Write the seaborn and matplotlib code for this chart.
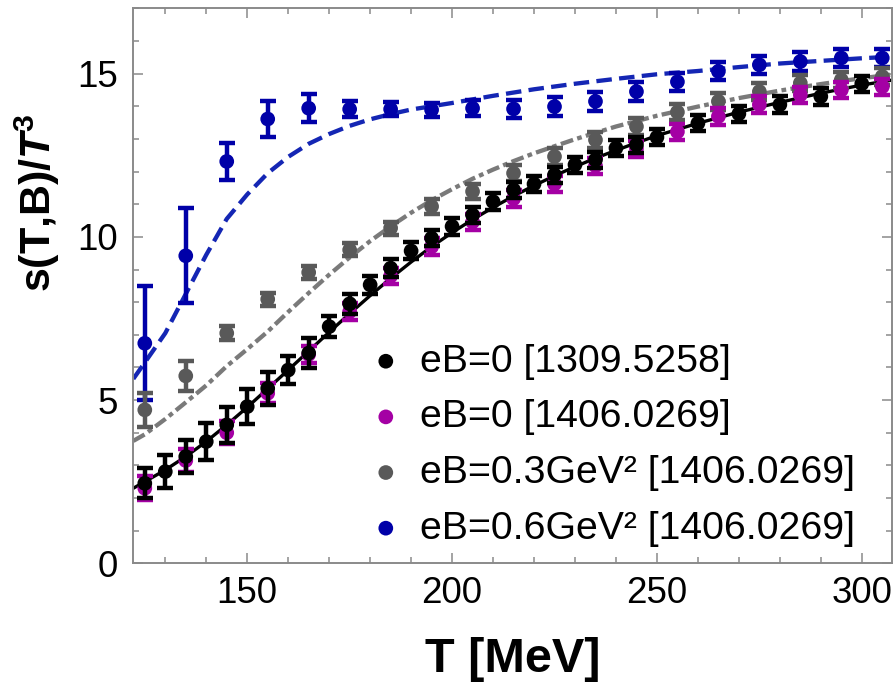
import matplotlib
matplotlib.use("Agg")
import matplotlib.pyplot as plt
from matplotlib.ticker import MultipleLocator
import seaborn as sns

# lattice data, eB=0 [1309.5258]
T_WB = [125, 130, 135, 140, 145, 150, 155, 160, 165, 170, 175, 180, 185, 190,
        195, 200, 205, 210, 215, 220, 225, 230, 235, 240, 245, 250,
        260, 270, 280, 290, 300]
S_WB = [2.45, 2.81, 3.27, 3.73, 4.24, 4.80, 5.36, 5.92, 6.44, 7.25, 7.95, 8.53,
        9.04, 9.57, 9.96, 10.32, 10.67, 11.08, 11.44, 11.62, 11.90, 12.21, 12.36,
        12.72, 12.82, 13.05, 13.48, 13.77, 14.05, 14.30, 14.69]
E_WB = [0.46, 0.50, 0.50, 0.56, 0.56, 0.53, 0.51, 0.43, 0.45, 0.33, 0.30, 0.28,
        0.27, 0.26, 0.25, 0.25, 0.25, 0.25, 0.25, 0.25, 0.25, 0.25, 0.25, 0.25,
        0.25, 0.25, 0.25, 0.25, 0.25, 0.25, 0.25]

# lattice data [1406.0269]
T_LAT = [125, 135, 145, 155, 165, 175, 185, 195, 205, 215, 225, 235, 245, 255,
         265, 275, 285, 295, 305]
S_B0 = [2.30, 3.15, 4.00, 5.21, 6.40, 7.71, 8.80, 9.70, 10.46, 11.17, 11.62,
        12.18, 12.70, 13.22, 13.69, 14.05, 14.35, 14.50, 14.60]
E_B0 = [0.36, 0.35, 0.35, 0.30, 0.25, 0.25, 0.25, 0.25, 0.25, 0.25, 0.25, 0.25,
        0.25, 0.25, 0.25, 0.25, 0.25, 0.25, 0.25]
S_B03 = [4.70, 5.74, 7.05, 8.09, 8.91, 9.60, 10.27, 10.93, 11.39, 11.95, 12.46,
         12.97, 13.38, 13.82, 14.15, 14.45, 14.71, 14.81, 14.91]
E_B03 = [0.53, 0.45, 0.22, 0.2, 0.2, 0.2, 0.2, 0.22, 0.22, 0.25, 0.25, 0.25,
         0.25, 0.25, 0.25, 0.25, 0.25, 0.25, 0.25]
S_B06 = [6.74, 9.42, 12.31, 13.61, 13.94, 13.91, 13.91, 13.89, 13.94, 13.92,
         13.99, 14.15, 14.45, 14.75, 15.07, 15.27, 15.37, 15.48, 15.48]
E_B06 = [1.74, 1.45, 0.57, 0.55, 0.43, 0.25, 0.22, 0.22, 0.25, 0.28, 0.28, 0.28,
         0.28, 0.28, 0.28, 0.28, 0.28, 0.28, 0.28]

# model curves
T_FIT0 = [122.2, 125, 130, 135, 140, 145, 150, 155, 160, 165, 170, 175, 180, 185,
          190, 195, 200, 205, 210, 215, 220, 225, 230, 235, 240, 245, 250, 260,
          270, 280, 290, 300, 307.3]
S_FIT0 = [2.30, 2.50, 2.86, 3.27, 3.73, 4.24, 4.78, 5.35, 5.92, 6.50, 7.08, 7.65,
          8.20, 8.73, 9.23, 9.70, 10.13, 10.53, 10.90, 11.25, 11.57, 11.87, 12.15,
          12.41, 12.65, 12.88, 13.10, 13.48, 13.82, 14.12, 14.40, 14.65, 14.80]
T_FIT03 = [122.2, 125, 130, 135, 140, 145, 150, 155, 160, 165, 170, 175, 180, 185,
           190, 195, 200, 205, 210, 215, 220, 230, 240, 250, 260, 270, 280, 290,
           300, 307.3]
S_FIT03 = [3.75, 3.95, 4.42, 4.93, 5.45, 6.04, 6.56, 7.10, 7.70, 8.28, 8.84, 9.37,
           9.87, 10.32, 10.74, 11.12, 11.46, 11.78, 12.06, 12.32, 12.56, 12.99,
           13.38, 13.71, 13.99, 14.25, 14.48, 14.68, 14.86, 14.97]
T_FIT06 = [122.2, 125, 130, 135, 140, 145, 150, 155, 160, 165, 170, 175, 180, 185,
           190, 195, 200, 210, 220, 230, 240, 250, 260, 270, 280, 290, 300, 307.3]
S_FIT06 = [5.65, 6.15, 7.05, 8.25, 9.45, 10.55, 11.30, 11.95, 12.45, 12.85, 13.15,
           13.40, 13.60, 13.76, 13.90, 14.00, 14.10, 14.32, 14.52, 14.69, 14.84,
           14.98, 15.08, 15.20, 15.31, 15.39, 15.47, 15.52]

LABELS = ["eB=0 [1309.5258]", "eB=0 [1406.0269]",
          "eB=0.3GeV\u00b2 [1406.0269]", "eB=0.6GeV\u00b2 [1406.0269]"]

BLACK = "#000000"
MAGENTA = "#a400a4"
GRAY = "#595959"
BLUE = "#0000a8"


def main():
    sns.set_theme(style="ticks")
    plt.rcParams["font.family"] = ["Liberation Sans", "DejaVu Sans"]
    plt.rcParams["mathtext.fontset"] = "custom"
    plt.rcParams["mathtext.rm"] = "Liberation Sans"
    plt.rcParams["mathtext.it"] = "Liberation Sans:italic"
    plt.rcParams["mathtext.bf"] = "Liberation Sans:bold"
    plt.rcParams["mathtext.bfit"] = "Liberation Sans:italic:bold"
    plt.rcParams["text.color"] = "black"
    plt.rcParams["axes.labelcolor"] = "black"

    fig = plt.figure(figsize=(8.96, 6.94), dpi=100)
    ax = fig.add_axes([0.1488, 0.1883, 0.8464, 0.7997])

    # curves
    sns.lineplot(x=T_FIT06, y=S_FIT06, color="#1426b4", linewidth=3.1,
                 errorbar=None, ax=ax, zorder=2, linestyle=(0, (3.6, 1.7)))
    sns.lineplot(x=T_FIT03, y=S_FIT03, color="#7a7a7a", linewidth=3.1,
                 errorbar=None, ax=ax, zorder=2,
                 linestyle=(0, (3.0, 1.0, 1.1, 1.0)))
    sns.lineplot(x=T_FIT0, y=S_FIT0, color=BLACK, linewidth=2.4,
                 errorbar=None, ax=ax, zorder=2)

    # data points with error bars
    series = [
        (T_LAT, S_B06, E_B06, BLUE, LABELS[3]),
        (T_LAT, S_B03, E_B03, GRAY, LABELS[2]),
        (T_LAT, S_B0, E_B0, MAGENTA, LABELS[1]),
        (T_WB, S_WB, E_WB, BLACK, LABELS[0]),
    ]
    z = 3
    for t, s, e, c, lab in series:
        ax.errorbar(t, s, yerr=e, fmt="none", ecolor=c, elinewidth=3.2,
                    capsize=6.0, capthick=3.2, zorder=z)
        sns.scatterplot(x=t, y=s, color=c, s=112, edgecolor="none", label=lab,
                        ax=ax, zorder=z + 0.5)
        z += 1

    ax.set_xlim(122.2, 307.3)
    ax.set_ylim(0, 17.0)
    ax.xaxis.set_major_locator(MultipleLocator(50))
    ax.xaxis.set_minor_locator(MultipleLocator(10))
    ax.yaxis.set_major_locator(MultipleLocator(5))
    ax.yaxis.set_minor_locator(MultipleLocator(1))

    for sp in ax.spines.values():
        sp.set_visible(True)
        sp.set_color("#8a8a8a")
        sp.set_linewidth(1.4)
    ax.tick_params(which="both", direction="in", top=True, right=True,
                   color="#8a8a8a", width=1.1, labelcolor="black")
    ax.tick_params(which="major", length=7.5, labelsize=26.5)
    ax.tick_params(which="minor", length=4.5)
    ax.tick_params(axis="x", which="major", pad=9)
    ax.tick_params(axis="y", which="major", pad=11)

    ax.set_xlabel("T [MeV]", fontsize=35, fontweight="bold", labelpad=19)
    ax.set_ylabel(r"s(T,B)/$\mathbfit{T}^{\mathbf{3}}$", fontsize=31,
                  fontweight="bold")
    ax.yaxis.set_label_coords(-0.094, 0.65)

    handles, labels = ax.get_legend_handles_labels()
    order = [labels.index(l) for l in LABELS]
    ax.legend([handles[i] for i in order], [labels[i] for i in order],
              loc="upper left", bbox_to_anchor=(0.307, 0.396), frameon=False,
              fontsize=28.3, borderpad=0, borderaxespad=0, handlelength=1.0,
              handletextpad=0.37, labelspacing=0.5, markerscale=1.0)

    fig.savefig("out.png", dpi=100)


if __name__ == "__main__":
    main()
